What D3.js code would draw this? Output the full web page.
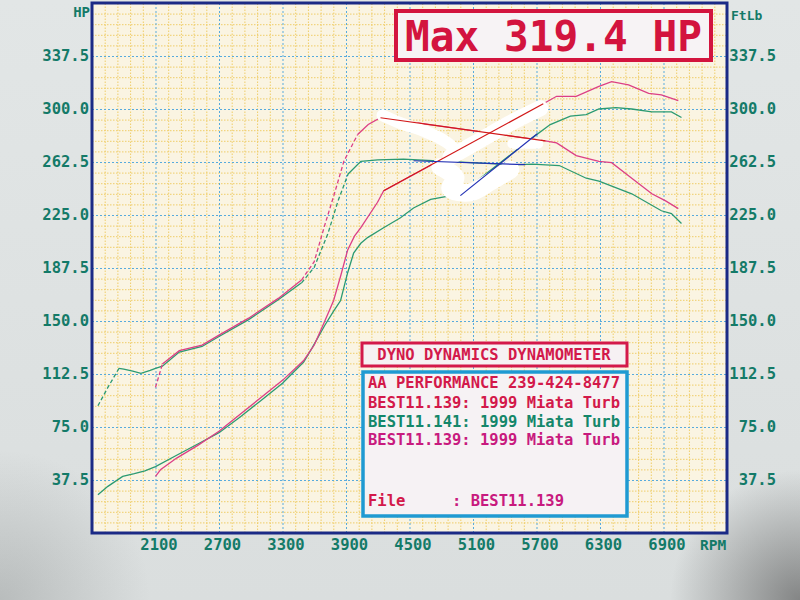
<!DOCTYPE html>
<html>
<head>
<meta charset="utf-8">
<script src="https://cdn.jsdelivr.net/npm/d3@7"></script>
<style>
  body { margin: 0; background: #e2e6e6; }
  text { font-family: "DejaVu Sans Mono", "Liberation Mono", monospace; font-weight: bold; }
</style>
</head>
<body>
<svg width="800" height="600"></svg>
<script>
// dyno sheet values
var xTicks = [2100, 2700, 3300, 3900, 4500, 5100, 5700, 6300, 6900];
var yTicks = [37.5, 75, 112.5, 150, 187.5, 225, 262.5, 300, 337.5];

// BEST11.141 (green) horsepower
var hpRpm141 = [1556, 1650, 1790, 1900, 2000, 2100, 2300, 2500, 2700, 2900, 3100, 3300, 3500, 3580, 3700, 3783, 3849, 3915, 3972, 4040, 4104, 4255, 4415, 4538, 4700, 4981, 5641, 5830, 6020, 6170, 6290, 6450, 6600, 6790, 6975, 7070];
var hp141 = [27, 33, 40, 42, 44, 47, 55, 63, 71, 82, 94, 106, 121, 131, 147, 157, 164.5, 184, 198, 205, 209, 216, 223, 230, 236, 240, 278.5, 289, 295, 296, 300, 301, 300, 298, 298, 294];

// BEST11.139 (magenta) horsepower
var hpRpm139 = [2100, 2150, 2300, 2500, 2700, 2900, 3100, 3300, 3500, 3600, 3700, 3783, 3850, 3915, 3980, 4040, 4198, 4255, 5764, 5890, 6075, 6290, 6410, 6570, 6760, 6880, 7040];
var hp139 = [40, 45, 53, 62, 72, 84, 96, 108, 122, 133, 150, 164.5, 182, 200, 210, 216, 234, 242, 303.7, 309, 309, 316, 319.4, 317, 311, 310, 306];

// BEST11.141 (green) torque
var tqRpm141 = [1556, 1650, 1755, 1800, 1885, 1962, 2050, 2100, 2165, 2325, 2540, 2700, 2980, 3260, 3480, 3600, 3730, 3825, 3920, 4040, 4200, 4443, 5481, 5660, 5915, 6170, 6290, 6600, 6880, 6975, 7070];
var tq141 = [90, 103, 116.5, 116, 114.6, 113, 115, 116.5, 118, 128, 132, 139, 151, 165, 177, 188, 212, 235, 254, 263, 264, 264.5, 260.5, 261, 260, 251, 249, 240, 228, 226, 219];

// BEST11.139 (magenta) torque
var tqRpm139 = [2100, 2165, 2325, 2540, 2700, 2980, 3260, 3480, 3600, 3700, 3790, 3880, 4010, 4110, 4226, 5783, 5890, 6075, 6290, 6410, 6600, 6790, 6920, 7040];
var tq139 = [103, 119.5, 129, 133, 140, 152, 166, 179, 192, 218, 240, 263, 282, 289, 293.8, 277.5, 276, 267, 263, 262, 251, 240, 235, 229.5];

// correction fluid painted over the sheet, and the pen lines drawn across it (rpm, value)
var whiteoutA = [[4245, 295.5], [4415, 290], [4651, 284], [4840, 277], [4934, 271]];
var whiteoutB = [[4887, 266], [5170, 278], [5453, 290], [5736, 300.5]];
var whiteoutC = [[5472, 275.5], [5717, 275.5]];
var whiteoutD = [[4792, 259], [4934, 251.5], [4887, 243.6], [5075, 241], [5264, 248.5], [5453, 257]];
var redPen = [[[4226, 293.8], [5783, 277.5]], [[4255, 242.2], [5764, 303.7]]];
var bluePen = [[[4538, 263.4], [5594, 260.6]], [[4981, 238.7], [5707, 282.5]]];

var titleText = "Max 319.4 HP";
var headerText = "DYNO DYNAMICS DYNAMOMETER";
var legendLines = ["AA PERFORMANCE 239-424-8477", "BEST11.139: 1999 Miata Turb", "BEST11.141: 1999 Miata Turb", "BEST11.139: 1999 Miata Turb"];
var legendColors = ["#d3194a", "#d3194a", "#14876a", "#c81a7e"];

var svg = d3.select("svg");
var x = d3.scaleLinear().domain([1500, 7500]).range([92, 727]); //RPM
var y = d3.scaleLinear().domain([0, 375]).range([533, 3]); //HP and FtLb share the scale
var axisColor = "#137a68";

// paper, slightly shaded like the photo
var defs = svg.append("defs");
var paper = defs.append("linearGradient").attr("id", "paper").attr("x1", 0).attr("y1", 0).attr("x2", 0).attr("y2", 1);
paper.append("stop").attr("offset", "0%").attr("stop-color", "#e2e6e6");
paper.append("stop").attr("offset", "100%").attr("stop-color", "#dadede");
var shade = defs.append("radialGradient").attr("id", "shade").attr("gradientUnits", "userSpaceOnUse")
    .attr("cx", 800).attr("cy", 600).attr("r", 130);
shade.append("stop").attr("offset", "0%").attr("stop-color", "#4a4a4a").attr("stop-opacity", 0.6);
shade.append("stop").attr("offset", "100%").attr("stop-color", "#4a4a4a").attr("stop-opacity", 0);
var shade2 = defs.append("radialGradient").attr("id", "shade2").attr("gradientUnits", "userSpaceOnUse")
    .attr("cx", 0).attr("cy", 600).attr("r", 150);
shade2.append("stop").attr("offset", "0%").attr("stop-color", "#6a6e6e").attr("stop-opacity", 0.3);
shade2.append("stop").attr("offset", "100%").attr("stop-color", "#6a6e6e").attr("stop-opacity", 0);

svg.append("rect").attr("width", 800).attr("height", 600).attr("fill", "url(#paper)");
svg.append("rect").attr("width", 800).attr("height", 600).attr("fill", "url(#shade)");
svg.append("rect").attr("width", 800).attr("height", 600).attr("fill", "url(#shade2)");

// plot area
svg.append("rect")
    .attr("x", x(1500)).attr("y", y(375))
    .attr("width", x(7500) - x(1500)).attr("height", y(0) - y(375))
    .attr("fill", "#faf4e2");

// minor (yellow) and major (blue) grid, drawn with axes
var minorX = d3.range(1500, 7501, 120).filter(function(d) { return (d - 1500) % 600 !== 0; });
var minorY = d3.range(0, 375.01, 7.5).filter(function(d, i) { return i % 5 !== 0; });
var majorX = d3.range(1500, 7501, 600);
var majorY = d3.range(0, 375.01, 37.5);

function grid(g, color, dash) {
  g.select(".domain").remove();
  g.selectAll("line").attr("stroke", color).attr("stroke-width", 1).attr("stroke-dasharray", dash);
}
svg.append("g").attr("transform", "translate(0," + y(0) + ")")
    .call(d3.axisBottom(x).tickValues(minorX).tickSize(-(y(0) - y(375))).tickFormat(""))
    .call(grid, "#efcd68", "1.5,1.5");
svg.append("g").attr("transform", "translate(" + x(1500) + ",0)")
    .call(d3.axisLeft(y).tickValues(minorY).tickSize(-(x(7500) - x(1500))).tickFormat(""))
    .call(grid, "#efcd68", "1.5,1.5");
svg.append("g").attr("transform", "translate(0," + y(0) + ")")
    .call(d3.axisBottom(x).tickValues(majorX).tickSize(-(y(0) - y(375))).tickFormat(""))
    .call(grid, "#58abdd", "2,2");
svg.append("g").attr("transform", "translate(" + x(1500) + ",0)")
    .call(d3.axisLeft(y).tickValues(majorY).tickSize(-(x(7500) - x(1500))).tickFormat(""))
    .call(grid, "#58abdd", "2,2");

// curves; the printer leaves the steep parts of torque traces dotted
var line = d3.line().x(function(d) { return x(d[0]); }).y(function(d) { return y(d[1]); });

function drawCurve(rpms, vals, color, dashSteep) {
  var pts = rpms.map(function(r, i) { return [r, vals[i]]; });
  var runs = [], cur = null;
  for (var i = 1; i < pts.length; i++) {
    var dx = Math.abs(x(pts[i][0]) - x(pts[i - 1][0]));
    var dy = Math.abs(y(pts[i][1]) - y(pts[i - 1][1]));
    var dashed = dashSteep && dy > 1.1 * dx;
    if (!cur || cur.dashed !== dashed) {
      cur = { dashed: dashed, pts: [pts[i - 1]] };
      runs.push(cur);
    }
    cur.pts.push(pts[i]);
  }
  svg.append("g").selectAll("path")
      .data(runs).enter().append("path")
      .attr("d", function(r) { return line(r.pts); })
      .attr("fill", "none")
      .attr("stroke", color)
      .attr("stroke-width", 1.3)
      .attr("stroke-dasharray", function(r) { return r.dashed ? "4,2.5" : null; });
}

drawCurve(tqRpm141, tq141, "#2b9a72", true);
drawCurve(tqRpm139, tq139, "#dc3f86", true);
drawCurve(hpRpm141, hp141, "#2b9a72", false);
drawCurve(hpRpm139, hp139, "#dc3f86", false);

// whiteout blob
var blob = d3.line().x(function(d) { return x(d[0]); }).y(function(d) { return y(d[1]); }).curve(d3.curveCatmullRom);
svg.append("g").selectAll("path")
    .data([whiteoutA, whiteoutB, whiteoutC, whiteoutD]).enter().append("path")
    .attr("d", blob)
    .attr("fill", "none")
    .attr("stroke", "#ffffff")
    .attr("stroke-width", function(d, i) { return [12, 16, 10, 18][i]; })
    .attr("stroke-linecap", "round")
    .attr("stroke-linejoin", "round");

// pen lines
svg.append("g").selectAll("path")
    .data(redPen).enter().append("path")
    .attr("d", line).attr("stroke", "#d21818").attr("stroke-width", 1.2);
svg.append("g").selectAll("path")
    .data(bluePen).enter().append("path")
    .attr("d", line).attr("stroke", "#2230b4").attr("stroke-width", 1.2);

// plot border
svg.append("rect")
    .attr("x", x(1500)).attr("y", y(375))
    .attr("width", x(7500) - x(1500)).attr("height", y(0) - y(375))
    .attr("fill", "none").attr("stroke", "#1b2a86").attr("stroke-width", 3);

// axes labels
function axisText(g) {
  g.select(".domain").remove();
  g.selectAll("line").remove();
  g.selectAll("text").attr("fill", axisColor).attr("font-size", 15.5)
      .attr("font-family", "DejaVu Sans Mono").attr("font-weight", "bold");
}
svg.append("g").attr("transform", "translate(" + x(1500) + ",0)")
    .call(d3.axisLeft(y).tickValues(yTicks).tickFormat(d3.format(".1f")).tickSize(0).tickPadding(3))
    .call(axisText);
svg.append("g").attr("transform", "translate(" + x(7500) + ",0)")
    .call(d3.axisRight(y).tickValues(yTicks).tickFormat(d3.format(".1f")).tickSize(0))
    .call(axisText)
    .selectAll("text").attr("text-anchor", "end").attr("x", 49);
svg.append("g").attr("transform", "translate(3," + y(0) + ")")
    .call(d3.axisBottom(x).tickValues(xTicks).tickFormat(d3.format("d")).tickSize(0).tickPadding(6))
    .call(axisText);

svg.append("text").attr("x", 90).attr("y", 17).attr("text-anchor", "end")
    .attr("fill", axisColor).attr("font-size", 14).text("HP");
svg.append("text").attr("x", 731).attr("y", 20)
    .attr("fill", axisColor).attr("font-size", 13).text("FtLb");
svg.append("text").attr("x", 700).attr("y", 550)
    .attr("fill", axisColor).attr("font-size", 14.5).text("RPM");

// title box
svg.append("rect").attr("x", 396).attr("y", 11).attr("width", 315).attr("height", 49)
    .attr("fill", "#f7f3f5").attr("stroke", "#d3143e").attr("stroke-width", 4);
svg.append("text").attr("x", 405).attr("y", 51)
    .attr("fill", "#d3143e").attr("font-size", 43)
    .attr("textLength", 297).attr("lengthAdjust", "spacingAndGlyphs")
    .text(titleText);

// legend boxes
svg.append("rect").attr("x", 362).attr("y", 343).attr("width", 265).attr("height", 23)
    .attr("fill", "#f6f1f3").attr("stroke", "#d3194a").attr("stroke-width", 3);
svg.append("text").attr("x", 494).attr("y", 360).attr("text-anchor", "middle")
    .attr("fill", "#d3194a").attr("font-size", 15.5).text(headerText);

svg.append("rect").attr("x", 363).attr("y", 372).attr("width", 264).attr("height", 144)
    .attr("fill", "#f6f2f4").attr("stroke", "#1f9ad2").attr("stroke-width", 3.5);
svg.append("g").selectAll("text")
    .data(legendLines).enter().append("text")
    .attr("x", 368)
    .attr("y", function(d, i) { return [388, 408, 427, 445][i]; })
    .attr("fill", function(d, i) { return legendColors[i]; })
    .attr("font-size", 15.5)
    .text(function(d) { return d; });
svg.append("text").attr("x", 368).attr("y", 506).attr("fill", "#d3194a").attr("font-size", 15.5).text("File");
svg.append("text").attr("x", 452).attr("y", 506).attr("fill", "#c81a7e").attr("font-size", 15.5).text(": BEST11.139");
</script>
</body>
</html>
